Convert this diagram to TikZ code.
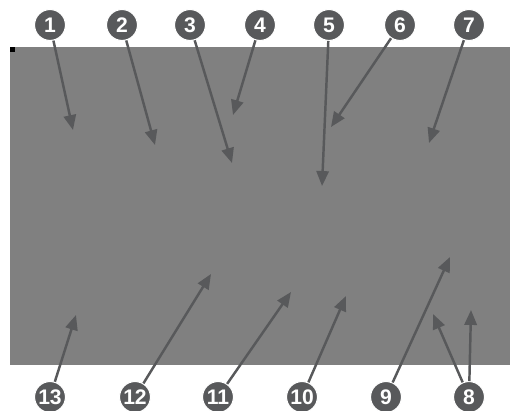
\documentclass[tikz,border=0pt]{standalone}
\usepackage{fontspec}
\setmainfont{Liberation Sans}
\usepackage{tikz}
\usetikzlibrary{arrows.meta}
\definecolor{panelgray}{HTML}{808080}
\definecolor{markgray}{HTML}{58595B}
\tikzset
{
  panel/.style={fill=panelgray,draw=none},
  callout/.style={circle,fill=markgray,draw=white,line width=0.6pt,minimum size=17.6pt,inner sep=0pt,text=white,font=\fontsize{12}{12}\selectfont\bfseries},
  pointer/.style={draw=markgray,line width=1.4pt,-{Triangle[length=8.5pt,width=7pt]}}
}

\begin{document}
\begin{tikzpicture}[x=0.02cm,y=-0.02cm]
        \useasboundingbox (0,0) rectangle (510,411);

        % Panel
        \fill[panel] (10,47) rectangle (510,365);
        \fill[black] (10,47.5) rectangle (14.5,52);

        % Callouts along the top
        \node[callout] (n1) at (50,25) {1};
        \node[callout] (n2) at (122,25) {2};
        \node[callout] (n3) at (190,25) {3};
        \node[callout] (n4) at (260,25) {4};
        \node[callout] (n5) at (329,25) {5};
        \node[callout] (n6) at (400,25) {6};
        \node[callout] (n7) at (469,25) {7};

        % Callouts along the bottom
        \node[callout] (n13) at (50,397) {13};
        \node[callout] (n12) at (135,397) {12};
        \node[callout] (n11) at (218,397) {11};
        \node[callout] (n10) at (302,397) {10};
        \node[callout] (n9) at (386,397) {9};
        \node[callout] (n8) at (469,397) {8};

        % Targets on the panel
        \coordinate (t1) at (73,130);
        \coordinate (t2) at (155,145);
        \coordinate (t3) at (232,163);
        \coordinate (t4) at (233,115);
        \coordinate (t5) at (322,186);
        \coordinate (t6) at (331,127);
        \coordinate (t7) at (429,143);
        \coordinate (t8a) at (433,314);
        \coordinate (t8b) at (471,310);
        \coordinate (t9) at (450,257);
        \coordinate (t10) at (346,296);
        \coordinate (t11) at (291,292);
        \coordinate (t12) at (211,274);
        \coordinate (t13) at (76,315);

        % Pointers
        \draw[pointer] (n1) -- (t1);
        \draw[pointer] (n2) -- (t2);
        \draw[pointer] (n3) -- (t3);
        \draw[pointer] (n4) -- (t4);
        \draw[pointer] (n5) -- (t5);
        \draw[pointer] (n6) -- (t6);
        \draw[pointer] (n7) -- (t7);
        \draw[pointer] (n8) -- (t8a);
        \draw[pointer] (n8) -- (t8b);
        \draw[pointer] (n9) -- (t9);
        \draw[pointer] (n10) -- (t10);
        \draw[pointer] (n11) -- (t11);
        \draw[pointer] (n12) -- (t12);
        \draw[pointer] (n13) -- (t13);
    \end{tikzpicture}
\end{document}
